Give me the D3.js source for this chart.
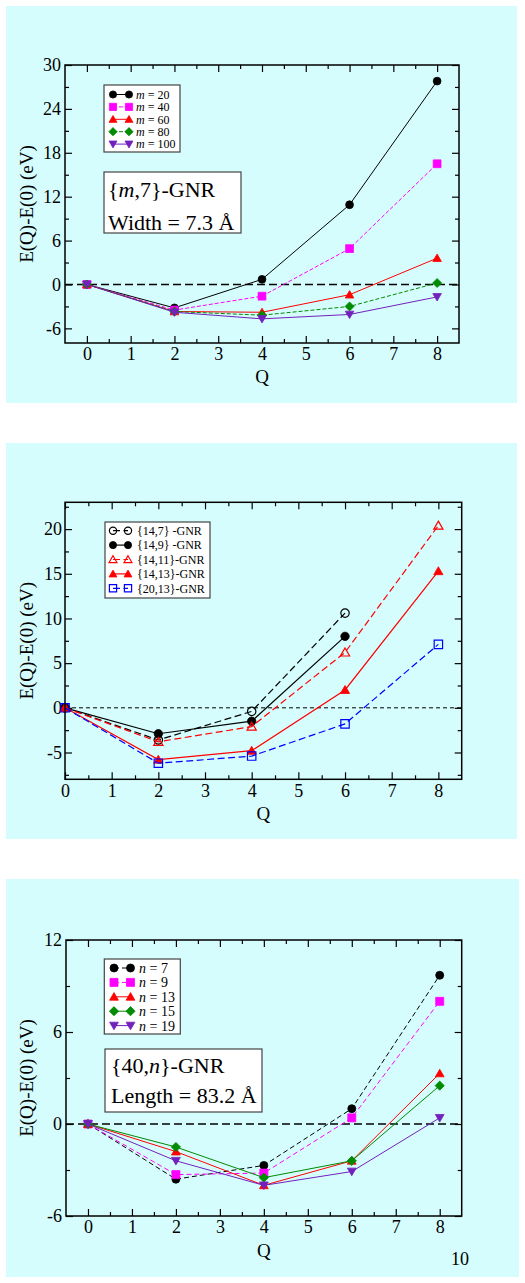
<!DOCTYPE html>
<html><head><meta charset="utf-8">
<script src="https://cdn.jsdelivr.net/npm/d3@7"></script>
<style>
body{margin:0;background:#fff}
svg{display:block}
text{font-family:"Liberation Serif","Times New Roman",serif;fill:#000}
</style>
</head><body>
<svg id="c" width="525" height="1283"></svg>
<script>
// ---------- DATA ----------
const Q = [0, 2, 4, 6, 8];

// Panel 1: {m,7}-GNR
const p1Var = "m";
const p1Names = ["20", "40", "60", "80", "100"];
const p1_m20  = [0, -3.2,  0.7, 10.9, 27.8];
const p1_m40  = [0, -3.5, -1.6,  4.9, 16.5];
const p1_m60  = [0, -3.7, -3.8, -1.4,  3.6];
const p1_m80  = [0, -3.7, -4.2, -3.0,  0.2];
const p1_m100 = [0, -3.8, -4.7, -4.1, -1.7];
const p1YTicks = [-6, 0, 6, 12, 18, 24, 30];

// Panel 2: various GNR
const p2Names = ["{14,7} -GNR", "{14,9} -GNR", "{14,11}-GNR", "{14,13}-GNR", "{20,13}-GNR"];
const p2_14_7  = [0, -3.6, -0.4, 10.6];
const p2_14_9  = [0, -2.9, -1.5,  8.0];
const p2_14_11 = [0, -3.8, -2.1,  6.2, 20.4];
const p2_14_13 = [0, -5.8, -4.8,  2.0, 15.3];
const p2_20_13 = [0, -6.2, -5.4, -1.8,  7.1];
const p2YTicks = [-5, 0, 5, 10, 15, 20];

// Panel 3: {40,n}-GNR
const p3Var = "n";
const p3Names = ["7", "9", "13", "15", "19"];
const p3_n7  = [0, -3.6, -2.7,  1.0, 9.7];
const p3_n9  = [0, -3.3, -3.2,  0.4, 8.0];
const p3_n13 = [0, -1.8, -4.0, -2.4, 3.3];
const p3_n15 = [0, -1.5, -3.5, -2.4, 2.5];
const p3_n19 = [0, -2.4, -4.0, -3.1, 0.4];
const p3YTicks = [-6, 0, 6, 12];

const xTicks = [0, 1, 2, 3, 4, 5, 6, 7, 8];

// ---------- STYLES ----------
const BG = "#d6fdfd";
const C = {black:"#000000", magenta:"#ff00ff", red:"#ff0000", green:"#008b00", indigo:"#7221bc", blue:"#0000ff"};

const svg = d3.select("#c");

function markerPath(shape, s) {
  const p = d3.path();
  if (shape === "circle") { p.arc(0, 0, s, 0, 2 * Math.PI); }
  else if (shape === "square") { p.rect(-s, -s, 2 * s, 2 * s); }
  else if (shape === "tri") { p.moveTo(0, -s * 1.05); p.lineTo(s * 1.1, s * 0.85); p.lineTo(-s * 1.1, s * 0.85); p.closePath(); }
  else if (shape === "tridown") { p.moveTo(0, s * 1.05); p.lineTo(s * 1.1, -s * 0.85); p.lineTo(-s * 1.1, -s * 0.85); p.closePath(); }
  else if (shape === "diamond") { p.moveTo(0, -s * 1.15); p.lineTo(s * 1.15, 0); p.lineTo(0, s * 1.15); p.lineTo(-s * 1.15, 0); p.closePath(); }
  return p.toString();
}

function drawMarker(g, cx, cy, st, size) {
  g.append("path")
    .attr("d", markerPath(st.shape, size))
    .attr("transform", `translate(${cx},${cy})`)
    .attr("fill", st.open ? "none" : st.color)
    .attr("stroke", st.color)
    .attr("stroke-width", st.open ? 1.2 : 0.8);
}

function drawPanel(cfg) {
  const g = svg.append("g");
  g.append("rect").attr("x", cfg.bg[0]).attr("y", cfg.bg[1]).attr("width", cfg.bg[2]).attr("height", cfg.bg[3]).attr("fill", BG);

  const x = d3.scaleLinear().domain(cfg.xDomain).range([cfg.left, cfg.right]);
  const y = d3.scaleLinear().domain(cfg.yDomain).range([cfg.bottom, cfg.top]);

  const fmt = d => String(d);
  const styleAxis = sel => {
    sel.select(".domain").remove();
    sel.selectAll(".tick line").attr("stroke", "#000").attr("stroke-width", 1.2);
    sel.selectAll("text").style("font-family", '"Liberation Serif","Times New Roman",serif').style("font-size", "18px").attr("fill", "#000");
  };

  const xMin = d3.range(cfg.xDomain[0], cfg.xDomain[1] + 0.001, 0.5).filter(v => !Number.isInteger(v) && v > cfg.xDomain[0] && v < cfg.xDomain[1]);
  const yStep = cfg.yTicks[1] - cfg.yTicks[0];
  const yMin = [];
  for (let v = cfg.yTicks[0] - yStep / 2; v < cfg.yDomain[1]; v += yStep) {
    if (v > cfg.yDomain[0] && v < cfg.yDomain[1]) yMin.push(v);
  }

  // bottom
  g.append("g").attr("transform", `translate(0,${cfg.bottom})`)
    .call(d3.axisBottom(x).tickValues(xTicks).tickSize(-7).tickPadding(4.5).tickFormat(fmt)).call(styleAxis);
  g.append("g").attr("transform", `translate(0,${cfg.bottom})`)
    .call(d3.axisBottom(x).tickValues(xMin).tickSize(-4).tickFormat("")).call(styleAxis);
  // top
  g.append("g").attr("transform", `translate(0,${cfg.top})`)
    .call(d3.axisTop(x).tickValues(xTicks).tickSize(-7).tickFormat("")).call(styleAxis);
  g.append("g").attr("transform", `translate(0,${cfg.top})`)
    .call(d3.axisTop(x).tickValues(xMin).tickSize(-4).tickFormat("")).call(styleAxis);
  // left
  g.append("g").attr("transform", `translate(${cfg.left},0)`)
    .call(d3.axisLeft(y).tickValues(cfg.yTicks).tickSize(-7).tickPadding(cfg.yPad).tickFormat(fmt)).call(styleAxis);
  g.append("g").attr("transform", `translate(${cfg.left},0)`)
    .call(d3.axisLeft(y).tickValues(yMin).tickSize(-4).tickFormat("")).call(styleAxis);
  // right
  g.append("g").attr("transform", `translate(${cfg.right},0)`)
    .call(d3.axisRight(y).tickValues(cfg.yTicks).tickSize(-7).tickFormat("")).call(styleAxis);
  g.append("g").attr("transform", `translate(${cfg.right},0)`)
    .call(d3.axisRight(y).tickValues(yMin).tickSize(-4).tickFormat("")).call(styleAxis);

  // zero line
  g.append("line").attr("x1", cfg.left).attr("x2", cfg.right).attr("y1", y(0)).attr("y2", y(0))
    .attr("stroke", "#000").attr("stroke-width", cfg.zeroW).attr("stroke-dasharray", cfg.zeroDash);

  // series
  cfg.series.forEach(s => {
    const pts = s.values.map((v, i) => [x(Q[i]), y(v)]);
    g.append("path").attr("d", d3.line()(pts)).attr("fill", "none")
      .attr("stroke", s.style.color).attr("stroke-width", s.style.lw || 1)
      .attr("stroke-dasharray", s.style.dash || null);
    pts.forEach(p => drawMarker(g, p[0], p[1], s.style, cfg.mSize));
  });

  // frame
  g.append("rect").attr("x", cfg.left).attr("y", cfg.top).attr("width", cfg.right - cfg.left).attr("height", cfg.bottom - cfg.top)
    .attr("fill", "none").attr("stroke", "#000").attr("stroke-width", 1.5);

  // legend
  const L = cfg.legend;
  g.append("rect").attr("x", L.box[0]).attr("y", L.box[1]).attr("width", L.box[2]).attr("height", L.box[3])
    .attr("fill", "#fff").attr("stroke", "#444").attr("stroke-width", 1.2);
  cfg.series.forEach((s, i) => {
    const ry = L.y0 + i * L.dy;
    g.append("line").attr("x1", L.m1).attr("x2", L.m2).attr("y1", ry).attr("y2", ry)
      .attr("stroke", s.style.color).attr("stroke-width", s.style.lw || 1).attr("stroke-dasharray", s.style.dash || null);
    drawMarker(g, L.m1, ry, s.style, L.mSize);
    drawMarker(g, L.m2, ry, s.style, L.mSize);
    const t = g.append("text").attr("x", L.tx).attr("y", ry).attr("dy", "0.35em").style("font-size", L.fs + "px");
    s.label(t);
  });

  // text box
  if (cfg.tbox) {
    const T = cfg.tbox;
    g.append("rect").attr("x", T.box[0]).attr("y", T.box[1]).attr("width", T.box[2]).attr("height", T.box[3])
      .attr("fill", "#fff").attr("stroke", "#444").attr("stroke-width", 1.2);
    const t1 = g.append("text").attr("x", T.tx).attr("y", T.y1).style("font-size", T.fs + "px");
    T.line1(t1);
    g.append("text").attr("x", T.tx).attr("y", T.y2).style("font-size", T.fs + "px").text(T.line2);
  }

  // axis labels
  g.append("text").attr("transform", `translate(${cfg.yLabX},${(cfg.top + cfg.bottom) / 2}) rotate(-90)`)
    .attr("text-anchor", "middle").style("font-size", "19px").text("E(Q)-E(0) (eV)");
  g.append("text").attr("x", (cfg.left + cfg.right) / 2).attr("y", cfg.qY).attr("text-anchor", "middle")
    .style("font-size", "19px").text("Q");
}

const varLabel = (v, n) => t => { t.append("tspan").style("font-style", "italic").text(v); t.append("tspan").text(" = " + n); };
const plainLabel = s => t => t.text(s);

// Panel 1
const p1Styles = [
  {color: C.black, shape: "circle"},
  {color: C.magenta, shape: "square", dash: "4,2"},
  {color: C.red, shape: "tri"},
  {color: C.green, shape: "diamond", dash: "4,2"},
  {color: C.indigo, shape: "tridown"}
];
const p1Values = [p1_m20, p1_m40, p1_m60, p1_m80, p1_m100];
drawPanel({
  bg: [6, 6, 511, 397], left: 65, right: 459, top: 65, bottom: 343,
  xDomain: [-0.5, 8.5], yDomain: [-8, 30], yTicks: p1YTicks, yPad: 4,
  zeroW: 1.4, zeroDash: "8,4", mSize: 3.9, yLabX: 33, qY: 383,
  series: p1Values.map((v, i) => ({values: v, style: p1Styles[i], label: varLabel(p1Var, p1Names[i])})),
  legend: {box: [104, 85, 76, 67], y0: 94.5, dy: 12.4, m1: 113, m2: 129, tx: 136, fs: 12, mSize: 3.6},
  tbox: {box: [104, 172, 137, 61], tx: 108, y1: 197, y2: 229.5, fs: 22,
    line1: t => { t.append("tspan").text("{"); t.append("tspan").style("font-style", "italic").text("m"); t.append("tspan").text(",7}-GNR"); },
    line2: "Width = 7.3 Å"}
});

// Panel 2
const p2Styles = [
  {color: C.black, shape: "circle", open: true, dash: "7,3.5", lw: 1.2},
  {color: C.black, shape: "circle", lw: 1.2},
  {color: C.red, shape: "tri", open: true, dash: "7,3.5", lw: 1.2},
  {color: C.red, shape: "tri", lw: 1.2},
  {color: C.blue, shape: "square", open: true, dash: "7,3.5", lw: 1.2}
];
const p2Values = [p2_14_7, p2_14_9, p2_14_11, p2_14_13, p2_20_13];
drawPanel({
  bg: [6, 443, 511, 396], left: 65, right: 461.7, top: 502.3, bottom: 779.3,
  xDomain: [0, 8.5], yDomain: [-8, 23], yTicks: p2YTicks, yPad: 3,
  zeroW: 1, zeroDash: "4,3", mSize: 4.2, yLabX: 33, qY: 820,
  series: p2Values.map((v, i) => ({values: v, style: p2Styles[i], label: plainLabel(p2Names[i])})),
  legend: {box: [105, 522, 105, 76], y0: 530.7, dy: 14.4, m1: 113, m2: 128, tx: 137, fs: 12, mSize: 3.6}
});

// Panel 3
const p3Styles = [
  {color: C.black, shape: "circle", dash: "5,3"},
  {color: C.magenta, shape: "square", dash: "5,3"},
  {color: C.red, shape: "tri"},
  {color: C.green, shape: "diamond"},
  {color: C.indigo, shape: "tridown"}
];
const p3Values = [p3_n7, p3_n9, p3_n13, p3_n15, p3_n19];
drawPanel({
  bg: [6, 879, 513, 398], left: 66, right: 461.7, top: 940, bottom: 1216,
  xDomain: [-0.5, 8.5], yDomain: [-6, 12], yTicks: p3YTicks, yPad: 4,
  zeroW: 1.4, zeroDash: "8,4", mSize: 4, yLabX: 33, qY: 1257,
  series: p3Values.map((v, i) => ({values: v, style: p3Styles[i], label: varLabel(p3Var, p3Names[i])})),
  legend: {box: [104.3, 959, 76, 75], y0: 968, dy: 14.4, m1: 114, m2: 130.5, tx: 139, fs: 14, mSize: 4},
  tbox: {box: [105, 1049, 157, 63], tx: 111, y1: 1073, y2: 1103, fs: 22,
    line1: t => { t.append("tspan").text("{40,"); t.append("tspan").style("font-style", "italic").text("n"); t.append("tspan").text("}-GNR"); },
    line2: "Length = 83.2 Å"}
});

// page number
svg.append("text").attr("x", 460).attr("y", 1265).attr("text-anchor", "middle").style("font-size", "18px").text("10");
</script>
</body></html>
